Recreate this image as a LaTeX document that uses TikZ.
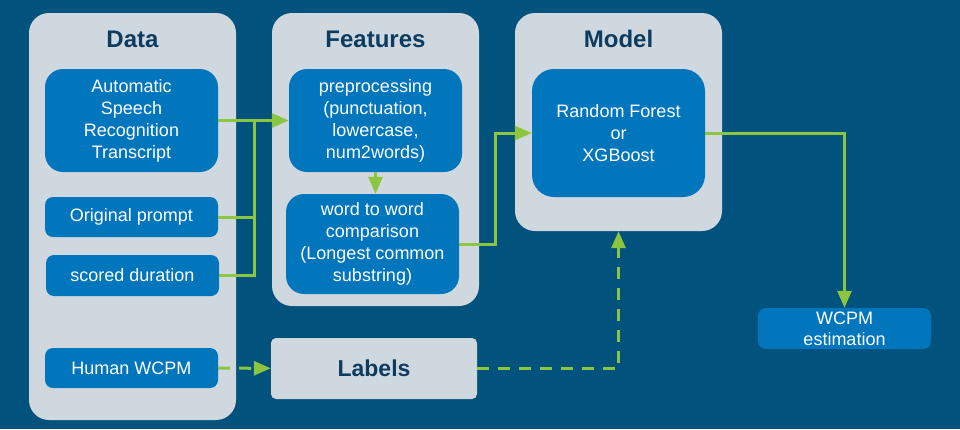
\documentclass[tikz,border=0pt]{standalone}
\usepackage{fontspec}
\setmainfont{Liberation Sans}
\usetikzlibrary{arrows.meta, positioning}
\definecolor{bgblue}{HTML}{01527C}
\definecolor{panelgray}{HTML}{CFD8DE}
\definecolor{boxblue}{HTML}{0176BD}
\definecolor{linkgreen}{HTML}{8CC540}
\definecolor{titleblue}{HTML}{0D3C60}
\tikzstyle{panel}=[fill=panelgray,rectangle,rounded corners=20pt,minimum width=207pt,inner sep=0pt]
\tikzstyle{block}=[fill=boxblue,rectangle,rounded corners=8pt,minimum width=173pt,inner sep=0pt,text=white,align=center,font=\fontsize{18}{22}\selectfont]
\tikzstyle{title}=[text=titleblue,font=\fontsize{24}{28}\selectfont\bfseries]
\tikzstyle{link}=[draw=linkgreen,line width=3pt]
\tikzstyle{dashlink}=[link,dash pattern=on 12pt off 9pt]

\begin{document}
\begin{tikzpicture}[x=1pt,y=-1pt,>={Triangle[length=17pt,width=14pt]}]
    \fill[bgblue] (0,0) rectangle (960,429);
    % columns
    \node[panel, minimum height=407pt] (data) at (132.5,216.5) {};
    \node[panel, minimum height=293pt] (feat) at (375.5,159.5) {};
    \node[panel, minimum height=218pt] (model) at (618.5,122) {};
    \node[title] (tdata) at (132.5,39) {Data};
    \node[title] (tfeat) at (375.5,39) {Features};
    \node[title] (tmodel) at (618.5,39) {Model};
    % boxes
    \node[block, minimum height=103pt, rounded corners=18pt] (asr) at (131.5,120.5) {Automatic\\Speech\\Recognition\\Transcript};
    \node[block, minimum height=40pt] (prompt) at (131.5,217) {Original prompt};
    \node[block, minimum height=41pt] (dur) at (132.5,275.5) {scored duration};
    \node[block, minimum height=40pt] (human) at (131.5,368) {Human WCPM};
    \node[block, minimum height=103pt, rounded corners=18pt] (prep) at (375.5,120.5) {preprocessing\\(punctuation,\\lowercase,\\num2words)};
    \node[block, minimum height=100pt, rounded corners=18pt] (wtw) at (372.5,244) {word to word\\comparison\\(Longest common\\substring)};
    \node[block, minimum height=128pt, rounded corners=22pt] (rf) at (618.5,133) {Random Forest\\or\\XGBoost};
    \node[panel, minimum width=206pt, minimum height=61pt, rounded corners=5pt, title, font=\fontsize{23}{27}\selectfont\bfseries] (labels) at (374,368.5) {Labels};
    \node[block, minimum height=41pt, font=\fontsize{18}{21}\selectfont] (wcpm) at (844.5,328.5) {WCPM\\estimation};
    \coordinate (join) at (254,120.5);
    % links
    \draw[link,->] (asr) -- (prep);
    \draw[link] (prompt) -| (join);
    \draw[link] (dur) -| (join);
    \draw[link,->] (prep.south) -- (prep.south |- wtw.north);
    \draw[link,->] (wtw.east) -- ++(36,0) |- (rf.west);
    \draw[link,->] (rf.east) -| (wcpm.north);
    \draw[dashlink,->] (human) -- (labels);
    \draw[dashlink,->] (labels.east) -| (model.south);
\end{tikzpicture}
\end{document}
